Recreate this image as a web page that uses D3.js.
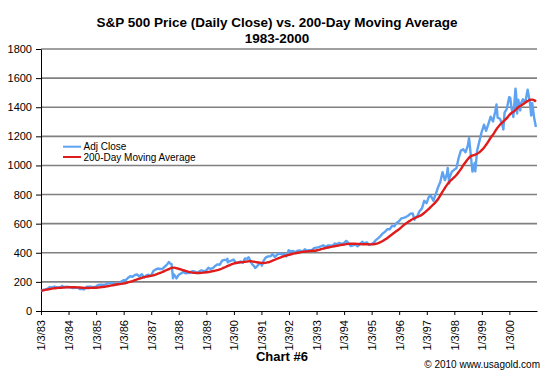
<!DOCTYPE html>
<html>
<head>
<meta charset="utf-8">
<script src="https://cdn.jsdelivr.net/npm/d3@7"></script>
<style>
  body { margin: 0; background: #fff; }
  svg { font-family: "Liberation Sans", Arial, sans-serif; }
</style>
</head>
<body>
<div id="chart"></div>
<script>
// month-end closes, S&P 500
var close1983 = [145.3, 148.1, 153.0, 164.4, 162.4, 168.1, 162.6, 164.4, 166.1, 163.6, 166.4, 164.9];
var close1984 = [163.4, 157.1, 159.2, 160.1, 150.6, 153.2, 150.7, 166.7, 166.1, 166.1, 163.6, 167.2];
var close1985 = [179.6, 181.2, 180.7, 179.8, 189.6, 191.9, 190.9, 188.6, 182.1, 189.8, 202.2, 211.3];
var close1986 = [211.8, 226.9, 238.9, 235.5, 247.4, 250.8, 236.1, 252.9, 231.3, 244.0, 249.2, 242.2];
var close1987 = [274.1, 284.2, 291.7, 288.4, 290.1, 304.0, 318.7, 329.8, 321.8, 251.8, 230.3, 247.1];
var close1988 = [257.1, 267.8, 258.9, 261.3, 262.2, 273.5, 272.0, 261.5, 271.9, 279.0, 273.7, 277.7];
var close1989 = [297.5, 288.9, 294.9, 309.6, 320.5, 318.0, 346.1, 351.5, 349.2, 340.4, 346.0, 353.4];
var close1990 = [329.1, 331.9, 339.9, 330.8, 361.2, 358.0, 356.2, 322.6, 306.1, 304.0, 322.2, 330.2];
var close1991 = [343.9, 367.1, 375.2, 375.3, 389.8, 371.2, 387.8, 395.4, 387.9, 392.5, 375.2, 417.1];
var close1992 = [408.8, 412.7, 403.7, 415.0, 415.4, 408.1, 424.2, 414.0, 417.8, 418.7, 431.4, 435.7];
var close1993 = [438.8, 443.4, 451.7, 440.2, 450.2, 450.5, 448.1, 463.6, 458.9, 467.8, 461.8, 466.5];
var close1994 = [481.6, 467.1, 445.8, 450.9, 456.5, 444.3, 458.3, 475.5, 462.7, 472.4, 453.7, 459.3];
var close1995 = [470.4, 487.4, 500.7, 514.7, 533.4, 544.8, 562.1, 561.9, 584.4, 581.5, 605.4, 615.9];
var close1996 = [636.0, 640.4, 645.5, 654.2, 669.1, 670.6, 640.0, 652.0, 687.3, 705.3, 757.0, 740.7];
var close1997 = [786.2, 790.8, 757.1, 801.3, 848.3, 885.1, 954.3, 899.5, 947.3, 914.6, 955.4, 970.4];
var close1998 = [980.3, 1049.3, 1101.8, 1111.8, 1090.8, 1133.8, 1120.7, 957.3, 1017.0, 1098.7, 1163.6, 1229.2];
var close1999 = [1279.6, 1238.3, 1286.4, 1335.2, 1301.8, 1372.7, 1328.7, 1320.4, 1282.7, 1362.9, 1388.9, 1469.3];
var close2000 = [1394.5, 1366.4, 1498.6, 1452.4, 1420.6, 1454.6, 1430.8, 1517.7, 1436.5, 1429.4, 1315.2];

// daily highs/lows between month ends
var closeExtremes = [
    ['1983-01-03', 138.3], ['1983-10-10', 172.6], ['1984-07-24', 147.8],
    ['1987-08-25', 336.8], ['1987-10-19', 224.8], ['1987-12-04', 223.9],
    ['1989-10-09', 359.8], ['1989-10-13', 333.7], ['1990-07-16', 369.0],
    ['1990-10-11', 295.5], ['1991-01-09', 311.5], ['1994-02-02', 482.0],
    ['1996-07-24', 626.7], ['1997-10-07', 983.1], ['1997-10-27', 877.0],
    ['1998-07-17', 1186.8], ['1998-10-08', 959.4], ['1999-07-16', 1418.8],
    ['1999-10-15', 1247.4], ['2000-01-14', 1465.2], ['2000-02-25', 1333.4],
    ['2000-03-24', 1527.5], ['2000-04-14', 1356.6], ['2000-05-26', 1378.0],
    ['2000-09-01', 1520.8], ['2000-10-18', 1342.1], ['2000-12-20', 1264.7]
];

// 200-day moving average, month ends
var ma1983 = [142, 145, 148, 151, 154, 156, 158, 159, 160, 161, 162, 163];
var ma1984 = [163.5, 163.5, 163, 162, 161, 160, 159, 158.5, 158.5, 159, 159.5, 160];
var ma1985 = [161, 163, 165, 167, 170, 173, 176, 179, 182, 184, 186, 189];
var ma1986 = [192, 196, 201, 206, 212, 218, 223, 228, 232, 236, 239, 241];
var ma1987 = [245, 250, 256, 262, 268, 275, 282, 289, 296, 298, 294, 290];
var ma1988 = [286, 281, 276, 271, 267, 264, 262, 261, 261, 262, 264, 266];
var ma1989 = [268, 271, 274, 277, 281, 286, 292, 299, 306, 313, 320, 326];
var ma1990 = [330, 333, 335, 336, 338, 340, 342, 341, 338, 335, 333, 331];
var ma1991 = [330, 331, 335, 340, 346, 352, 359, 365, 371, 377, 381, 386];
var ma1992 = [390, 394, 397, 400, 403, 406, 408, 410, 411, 413, 414, 416];
var ma1993 = [420, 424, 428, 432, 436, 439, 442, 445, 448, 451, 454, 456];
var ma1994 = [459, 461, 462, 462, 462, 461, 460, 459, 459, 459, 458, 458];
var ma1995 = [459, 462, 467, 473, 481, 491, 502, 514, 526, 538, 550, 562];
var ma1996 = [575, 588, 600, 612, 622, 632, 639, 646, 653, 662, 674, 688];
var ma1997 = [702, 717, 732, 748, 768, 792, 820, 845, 868, 888, 903, 918];
var ma1998 = [934, 953, 975, 1000, 1022, 1042, 1060, 1068, 1073, 1080, 1090, 1105];
var ma1999 = [1122, 1142, 1165, 1190, 1212, 1236, 1260, 1280, 1295, 1310, 1325, 1345];
var ma2000 = [1360, 1370, 1385, 1400, 1410, 1420, 1432, 1442, 1450, 1452, 1447];
var maEnds = [['1983-01-03', 140], ['2000-12-20', 1438]];

var firstYear = 1983;
var yTicks = [0, 200, 400, 600, 800, 1000, 1200, 1400, 1600, 1800];
var xTickLabels = ['1/3/83', '1/3/84', '1/3/85', '1/3/86', '1/3/87', '1/3/88', '1/3/89', '1/3/90', '1/3/91',
    '1/3/92', '1/3/93', '1/3/94', '1/3/95', '1/3/96', '1/3/97', '1/3/98', '1/3/99', '1/3/00'];

var closeYears = [close1983, close1984, close1985, close1986, close1987, close1988, close1989, close1990, close1991,
    close1992, close1993, close1994, close1995, close1996, close1997, close1998, close1999, close2000];
var maYears = [ma1983, ma1984, ma1985, ma1986, ma1987, ma1988, ma1989, ma1990, ma1991,
    ma1992, ma1993, ma1994, ma1995, ma1996, ma1997, ma1998, ma1999, ma2000];

var parseDay = d3.timeParse('%Y-%m-%d');
var parseTick = d3.timeParse('%m/%d/%y');

function monthly(years, extras) {
    var pts = [];
    years.forEach(function (vals, yi) {
        vals.forEach(function (v, m) {
            // last day of month
            pts.push({date: new Date(firstYear + yi, m + 1, 0), value: v});
        });
    });
    extras.forEach(function (e) {
        pts.push({date: parseDay(e[0]), value: e[1]});
    });
    return pts.sort(function (a, b) { return a.date - b.date; });
}

var closeData = monthly(closeYears, closeExtremes);
var maData = monthly(maYears, maEnds);

var width = 550, height = 373;
var margin = {top: 49, right: 13, bottom: 62, left: 41};
var labelFont = '"Liberation Sans", Arial, sans-serif';

var svg = d3.select('#chart').append('svg')
    .attr('width', width)
    .attr('height', height);

var x = d3.scaleTime()
    .domain([parseDay('1983-01-03'), parseDay('2001-01-03')])
    .range([margin.left, width - margin.right]);

var y = d3.scaleLinear()
    .domain([0, 1800])
    .range([height - margin.bottom, margin.top]);

// gridlines
svg.append('g')
    .selectAll('line')
    .data(yTicks.filter(function (d) { return d > 0; }))
    .enter().append('line')
    .attr('x1', margin.left)
    .attr('x2', width - margin.right)
    .attr('y1', function (d) { return y(d); })
    .attr('y2', function (d) { return y(d); })
    .attr('stroke', '#808080')
    .attr('stroke-width', 1.6);

var yAxis = d3.axisLeft(y)
    .tickValues(yTicks)
    .tickFormat(d3.format('d'))
    .tickSize(5)
    .tickPadding(4)
    .tickSizeOuter(0);

var xAxis = d3.axisBottom(x)
    .tickValues(xTickLabels.map(function (d) { return parseTick(d); }))
    .tickFormat(function (d, i) { return xTickLabels[i]; })
    .tickSize(4)
    .tickSizeOuter(0);

var yAxisContainer = svg.append('g')
    .attr('transform', 'translate(' + margin.left + ' 0)')
    .call(yAxis);
yAxisContainer.selectAll('text')
    .attr('font-size', 11)
    .attr('font-family', labelFont)
    .attr('fill', '#000');

var xAxisContainer = svg.append('g')
    .attr('transform', 'translate(0 ' + (height - margin.bottom) + ')')
    .call(xAxis);
xAxisContainer.selectAll('text')
    .attr('font-size', 11)
    .attr('font-family', labelFont)
    .attr('fill', '#000')
    .attr('transform', 'rotate(-90)')
    .attr('text-anchor', 'end')
    .attr('dy', '0.35em')
    .attr('x', -9)
    .attr('y', 0);

svg.selectAll('.domain, .tick line').attr('stroke', '#000');

var line = d3.line()
    .x(function (d) { return x(d.date); })
    .y(function (d) { return y(d.value); });

svg.append('path')
    .datum(closeData)
    .attr('fill', 'none')
    .attr('stroke', '#5ea2f2')
    .attr('stroke-width', 2.4)
    .attr('stroke-linejoin', 'round')
    .attr('d', line);

svg.append('path')
    .datum(maData)
    .attr('fill', 'none')
    .attr('stroke', '#e01b1b')
    .attr('stroke-width', 2.4)
    .attr('stroke-linejoin', 'round')
    .attr('d', line.curve(d3.curveMonotoneX));

// legend
var legend = svg.append('g').attr('font-size', 10);
[['Adj Close', '#5ea2f2'], ['200-Day Moving Average', '#e01b1b']].forEach(function (d, i) {
    var ly = 146.7 + i * 10.3;
    legend.append('line')
        .attr('x1', 63).attr('x2', 81)
        .attr('y1', ly).attr('y2', ly)
        .attr('stroke', d[1])
        .attr('stroke-width', 2);
    legend.append('text')
        .attr('x', 83.5).attr('y', ly)
        .attr('dy', '0.35em')
        .text(d[0]);
});

svg.append('text')
    .attr('x', 277).attr('y', 27)
    .attr('text-anchor', 'middle')
    .attr('font-size', 13.5).attr('font-weight', 'bold')
    .text('S&P 500 Price (Daily Close) vs. 200-Day Moving Average');
svg.append('text')
    .attr('x', 277).attr('y', 43)
    .attr('text-anchor', 'middle')
    .attr('font-size', 13.5).attr('font-weight', 'bold')
    .text('1983-2000');

svg.append('text')
    .attr('x', 282).attr('y', 361)
    .attr('text-anchor', 'middle')
    .attr('font-size', 13).attr('font-weight', 'bold')
    .text('Chart #6');

svg.append('text')
    .attr('x', 540).attr('y', 368)
    .attr('text-anchor', 'end')
    .attr('font-size', 10)
    .text('\u00a9 2010 www.usagold.com');
</script>
</body>
</html>
